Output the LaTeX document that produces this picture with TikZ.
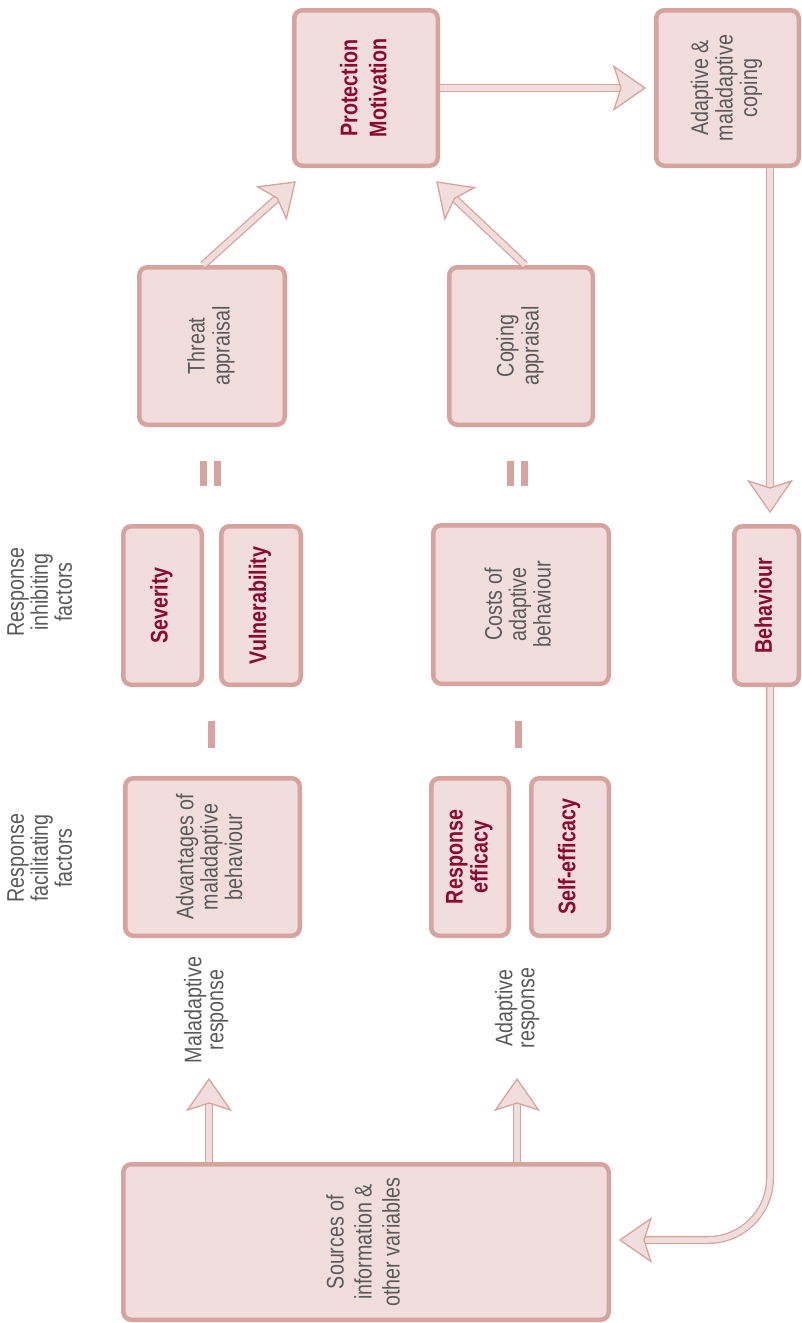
\documentclass[tikz,border=0pt]{standalone}
\usepackage{graphicx}
\usepackage{fontspec}
\setmainfont{Liberation Sans}[FakeStretch=0.82]
\usetikzlibrary{calc}
\definecolor{boxfill}{RGB}{241,221,219}
\definecolor{boxline}{RGB}{215,163,159}
\definecolor{txtgray}{RGB}{90,90,90}
\definecolor{txtred}{RGB}{140,8,48}
\newcommand\rtxt[2][23]{\rotatebox{90}{\fontsize{24}{#1}\selectfont\begin{tabular}{@{}c@{}}#2\end{tabular}}}
\tikzset{
  box/.style={draw=boxline, fill=boxfill, line width=4.5pt, rounded corners=8pt,
    inner sep=0pt, text=txtgray},
  boldbox/.style={box, text=txtred, font=\bfseries},
  lbl/.style={inner sep=0pt, text=txtgray},
  flexshaft/.style={draw=boxline, line width=1.3pt, double=boxfill, double distance=5.5pt},
  flexhd/.style={draw=boxline, fill=boxfill, line width=1.3pt, line join=miter},
  bar/.style={fill=boxline}
}
\newcommand\flexhead[2]{%
  \coordinate (fh-t) at #1; \coordinate (fh-d) at #2;
  \coordinate (fh-b) at ($(fh-t)!31pt!(fh-d)$);
  \coordinate (fh-n) at ($(fh-t)!24pt!(fh-d)$);
  \draw[flexhd] (fh-t) -- ($(fh-b)!21.5pt!90:(fh-d)$) -- (fh-n)
     -- ($(fh-b)!21.5pt!-90:(fh-d)$) -- cycle;
}
\newcommand\flexarrow[2]{%
  \coordinate (fa-s) at #1; \coordinate (fa-t) at #2;
  \draw[flexshaft] (fa-s) -- ($(fa-t)!25pt!(fa-s)$);
  \flexhead{(fa-t)}{(fa-s)}%
}
\begin{document}
\begin{tikzpicture}[x=1pt,y=-1pt]
\useasboundingbox (0,0) rectangle (802,1323);

% boxes
\node[boldbox, minimum width=143.5pt, minimum height=155.5pt] (pm) at (366,88) {\rtxt[29]{Protection\\Motivation}};
\node[box, minimum width=142.5pt, minimum height=155.5pt] (amc) at (727.5,88) {\rtxt[24]{Adaptive \&\\maladaptive\\coping}};
\node[box, minimum width=145.5pt, minimum height=157.5pt] (threat) at (212,346) {\rtxt[25]{Threat\\appraisal}};
\node[box, minimum width=143.5pt, minimum height=157.5pt] (coping) at (521,346) {\rtxt[25]{Coping\\appraisal}};
\node[boldbox, minimum width=78.5pt, minimum height=158.5pt] (sev) at (162.5,605.5) {\rtxt{Severity}};
\node[boldbox, minimum width=79.5pt, minimum height=158.5pt] (vul) at (261,605.5) {\rtxt{Vulnerability}};
\node[box, minimum width=175.5pt, minimum height=158.5pt] (costs) at (521,604.5) {\rtxt[23]{Costs of\\adaptive\\behaviour}};
\node[boldbox, minimum width=64.5pt, minimum height=158.5pt] (beh) at (766.5,605.5) {\rtxt{Behaviour}};
\node[box, minimum width=174.5pt, minimum height=157.5pt] (adv) at (212.5,857) {\rtxt[23]{Advantages of\\maladaptive\\behaviour}};
\node[boldbox, minimum width=77.5pt, minimum height=157.5pt] (reff) at (470,857) {\rtxt[25]{Response\\efficacy}};
\node[boldbox, minimum width=77.5pt, minimum height=157.5pt] (seff) at (570,857) {\rtxt{Self-efficacy}};
\node[box, minimum width=485.5pt, minimum height=155.5pt] (src) at (366,1242) {\rtxt[28]{Sources of\\information \&\\other variables}};

% labels
\node[lbl] (rif) at (43,592) {\rtxt[22]{Response\\inhibiting\\factors}};
\node[lbl] (rff) at (43,858) {\rtxt[22]{Response\\facilitating\\factors}};
\node[lbl] (mr) at (207,1010) {\rtxt[22]{Maladaptive\\response}};
\node[lbl] (ar) at (518,1008) {\rtxt[22]{Adaptive\\response}};

% equals and minus signs
\fill[bar] (200,461) rectangle (207,486);
\fill[bar] (214,461) rectangle (221,486);
\fill[bar] (507,461) rectangle (514,486);
\fill[bar] (521,461) rectangle (528,486);
\fill[bar] (208,721) rectangle (215,748);
\fill[bar] (515,721) rectangle (522,748);

% arrow tips
\coordinate (t1) at (645,88);
\coordinate (t2) at (770,512);
\coordinate (t3) at (295,182);
\coordinate (t4) at (437,182);
\coordinate (t5) at (209,1079);
\coordinate (t6) at (517,1079);
\coordinate (t7) at (620,1240);

\flexarrow{(pm.east)}{(t1)}
\flexarrow{([xshift=42.5pt]amc.south)}{(t2)}
\flexarrow{([xshift=-9pt]threat.north)}{(t3)}
\flexarrow{([xshift=4pt]coping.north)}{(t4)}
\flexarrow{([xshift=-157pt]src.north)}{(t5)}
\flexarrow{([xshift=151pt]src.north)}{(t6)}
\draw[flexshaft, rounded corners=62pt] ([xshift=3.5pt]beh.south) |- ($(t7)+(25,0)$);
\flexhead{(t7)}{($(t7)+(40,0)$)}
\end{tikzpicture}
\end{document}
